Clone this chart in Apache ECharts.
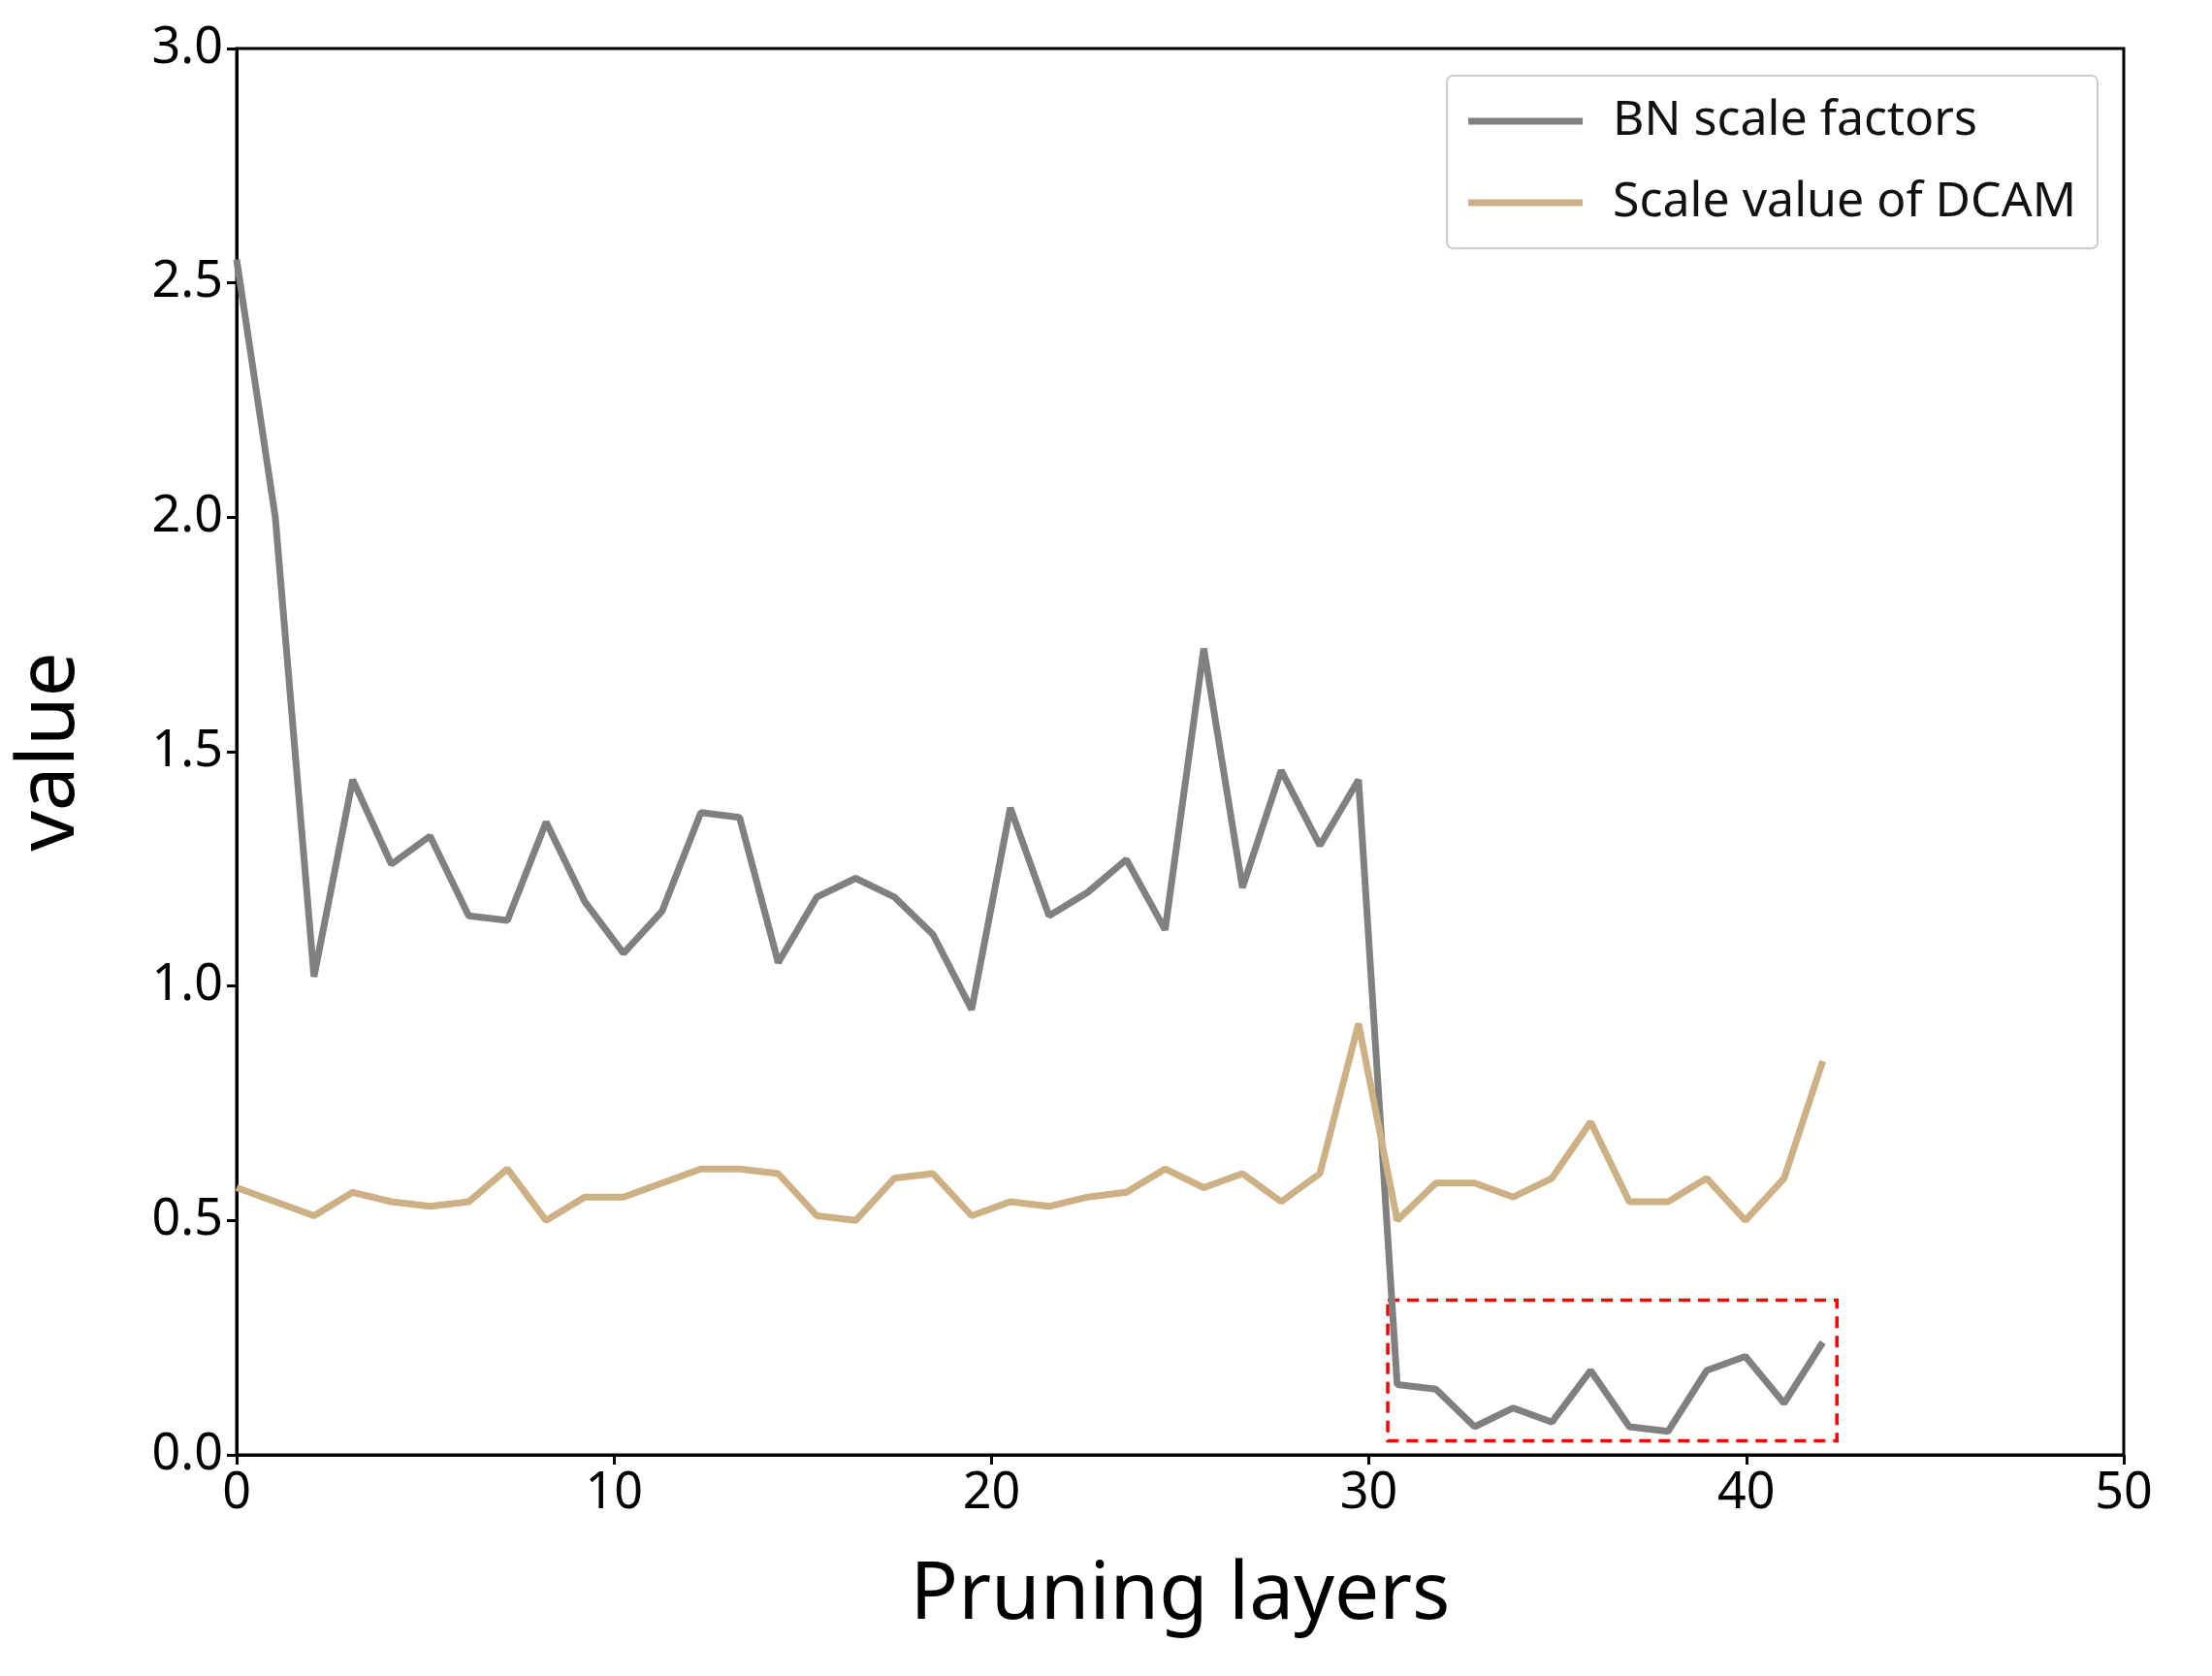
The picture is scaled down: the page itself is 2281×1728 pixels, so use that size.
<!DOCTYPE html>
<html><head><meta charset="utf-8">
<script src="https://cdn.jsdelivr.net/npm/echarts@6/dist/echarts.min.js"></script>
<style>html,body{margin:0;background:#fff}#c{width:2281px;height:1728px}</style>
</head><body><div id="c"></div>
<script>
const xs = [0,1.025,2.05,3.075,4.1,5.125,6.15,7.175,8.2,9.225,10.25,11.275,12.3,13.325,14.35,15.375,16.4,17.425,18.45,19.475,20.5,21.525,22.55,23.575,24.6,25.625,26.65,27.675,28.7,29.725,30.75,31.775,32.8,33.825,34.85,35.875,36.9,37.925,38.95,39.975,41.0,42.025];
const bn = [2.55,2.0,1.02,1.44,1.26,1.32,1.15,1.14,1.35,1.18,1.07,1.16,1.37,1.36,1.05,1.19,1.23,1.19,1.11,0.95,1.38,1.15,1.2,1.27,1.12,1.72,1.21,1.46,1.30,1.44,0.15,0.14,0.06,0.10,0.07,0.18,0.06,0.05,0.18,0.21,0.11,0.24];
const dcam = [0.57,0.54,0.51,0.56,0.54,0.53,0.54,0.61,0.50,0.55,0.55,0.58,0.61,0.61,0.60,0.51,0.50,0.59,0.60,0.51,0.54,0.53,0.55,0.56,0.61,0.57,0.60,0.54,0.60,0.92,0.50,0.58,0.58,0.55,0.59,0.71,0.54,0.54,0.59,0.50,0.59,0.84];
const boxX = [30.5,42.4], boxY = [0.03,0.33];
const names = ['BN scale factors','Scale value of DCAM'];
const F = 'Noto Sans';
const chart = echarts.init(document.getElementById('c'));
chart.setOption({
  animation:false,
  textStyle:{fontFamily:F},
  grid:{left:244,right:91,top:50,bottom:228,show:true,borderColor:'#000',borderWidth:3},
  legend:{right:118,top:78,orient:'vertical',itemWidth:118,itemHeight:7,itemGap:34,padding:[22,22,22,22],
    borderColor:'#ccc',borderWidth:2,borderRadius:6,backgroundColor:'#fff',
    textStyle:{fontSize:50,fontFamily:F,color:'#111',padding:[0,0,0,26]},
    data:names.map(n=>({name:n,icon:'rect'}))},
  xAxis:{type:'value',min:0,max:50,interval:10,name:'Pruning layers',nameLocation:'middle',nameGap:105,
    nameTextStyle:{fontSize:82,color:'#000'},
    axisLine:{lineStyle:{color:'#000',width:3}},axisTick:{length:10,lineStyle:{width:3,color:'#000'}},
    axisLabel:{fontSize:52,color:'#000',margin:14},splitLine:{show:false}},
  yAxis:{type:'value',min:0,max:3,interval:0.5,name:'value',nameLocation:'middle',nameGap:150,
    nameTextStyle:{fontSize:82,color:'#000'},
    axisLine:{show:true,lineStyle:{color:'#000',width:3}},axisTick:{show:true,length:10,lineStyle:{width:3,color:'#000'}},
    axisLabel:{fontSize:52,color:'#000',margin:14,formatter:v=>v.toFixed(1)},splitLine:{show:false}},
  series:[
    {name:names[0],type:'line',data:xs.map((x,i)=>[x,bn[i]]),showSymbol:false,color:'#808080',lineStyle:{width:7,color:'#808080'},
     markArea:{silent:true,itemStyle:{color:'rgba(0,0,0,0)',borderColor:'#ff0000',borderWidth:3.5,borderType:[12,8]},
       data:[[{coord:[boxX[0],boxY[1]]},{coord:[boxX[1],boxY[0]]}]]}},
    {name:names[1],type:'line',data:xs.map((x,i)=>[x,dcam[i]]),showSymbol:false,color:'#CDB083',lineStyle:{width:7,color:'#CDB083'}}
  ]
});
</script></body></html>
